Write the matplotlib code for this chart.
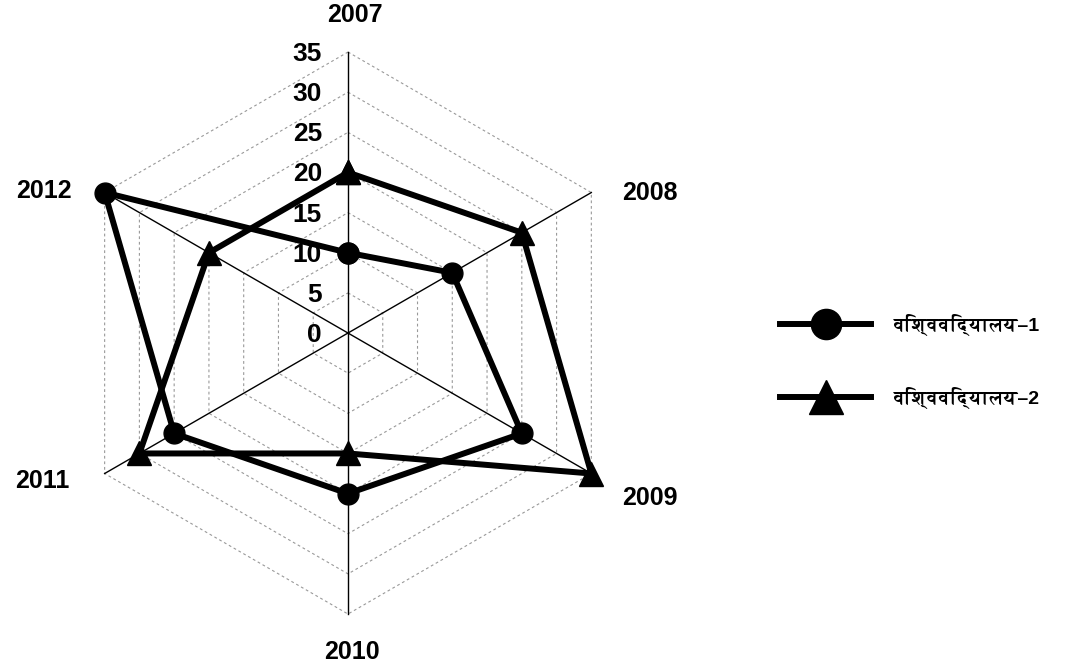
import numpy as np
import matplotlib
matplotlib.use('Agg')
import matplotlib.pyplot as plt
from matplotlib import font_manager
from matplotlib.ft2font import FT2Font

# Daten
years = ['2007', '2008', '2009', '2010', '2011', '2012']
uni_1 = [10, 15, 25, 20, 25, 35]
uni_2 = [20, 25, 35, 15, 30, 20]
ring_values = [5, 10, 15, 20, 25, 30, 35]
tick_labels = ['0', '5', '10', '15', '20', '25', '30', '35']
series_names = ['विश्वविद्यालय–1', 'विश्वविद्यालय–2']

# Schrift mit Devanagari suchen (fett bevorzugt)
deva_fonts = []
for f in font_manager.fontManager.ttflist:
    try:
        if 0x0935 in FT2Font(f.fname).get_charmap():
            deva_fonts.append(f)
    except Exception:
        pass
deva_fonts.sort(key=lambda f: 0 if f.weight in ('bold', 700) else 1)
deva = deva_fonts[0].name if deva_fonts else None
legend_family = ['Liberation Sans', deva, 'DejaVu Sans'] if deva else ['Liberation Sans', 'DejaVu Sans']

plt.rcParams['font.family'] = ['Liberation Sans', 'DejaVu Sans']

fig = plt.figure(figsize=(10.65, 6.68), dpi=100)
ax = fig.add_axes([0.0629, 0.0808, 0.5277, 0.8413], projection='polar')
ax.set_theta_offset(np.pi / 2)
ax.set_theta_direction(-1)
ax.set_ylim(0, 35)
ax.set_axis_off()

n = len(years)
theta = np.linspace(0, 2 * np.pi, n, endpoint=False)
theta_c = np.append(theta, theta[0])

# Gitter (Sechsecke)
for r in ring_values:
    ax.plot(theta_c, [r] * (n + 1), color='#999999', lw=0.8,
            ls=(0, (2.5, 2.5)), clip_on=False, zorder=1)
for t in theta:
    ax.plot([t, t], [0, 35], color='black', lw=1.0, clip_on=False, zorder=2)

# Reihen
ax.plot(theta_c, uni_1 + uni_1[:1], color='black', lw=4.3, marker='o',
        markersize=15, clip_on=False, zorder=4, label=series_names[0])
ax.plot(theta_c, uni_2 + uni_2[:1], color='black', lw=4.3, marker='^',
        markersize=17, clip_on=False, zorder=4, label=series_names[1])

# Achsenbeschriftung
for i, lab in enumerate(tick_labels):
    ax.annotate(lab, xy=(0, i * 5), xytext=(-26, -2), textcoords='offset pixels',
                ha='right', va='center', fontsize=19, fontweight='bold',
                annotation_clip=False)

offsets = [(7, 37, 'center'), (31, 0, 'left'), (31, -24, 'left'),
           (4, -38, 'center'), (-35, -7, 'right'), (-33, 2, 'right')]
for t, lab, (dx, dy, ha) in zip(theta, years, offsets):
    ax.annotate(lab, xy=(t, 35), xytext=(dx, dy), textcoords='offset pixels',
                ha=ha, va='center', fontsize=18, fontweight='bold',
                annotation_clip=False)

leg = fig.legend(loc='center left', bbox_to_anchor=(0.716, 0.459), frameon=False,
                 handlelength=4.7, handletextpad=1.15, labelspacing=2.6,
                 markerscale=1.45, prop={'family': legend_family, 'size': 14,
                                         'weight': 'bold'})

fig.savefig('out.png', dpi=100)
